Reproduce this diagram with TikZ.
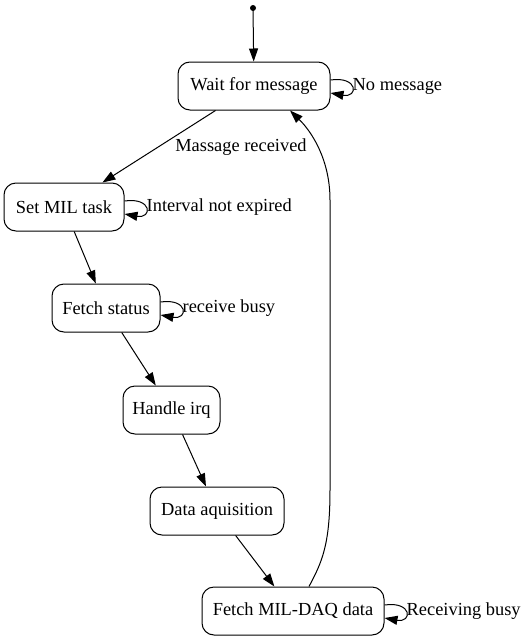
\documentclass[tikz,border=0pt]{standalone}
\usepackage{fontspec}
\setmainfont{Liberation Serif}
\usetikzlibrary{arrows.meta}
\begin{document}
\begin{tikzpicture}[x=1pt,y=-1pt,
  state/.style={draw,rounded corners=12pt,minimum height=48pt,inner sep=0pt,line width=1pt,font=\fontsize{18.4}{22}\selectfont},
  lbl/.style={font=\fontsize{18.4}{22}\selectfont,inner sep=0pt},
  edge/.style={-{Triangle[length=13pt,width=9pt]},line width=1pt}]
\useasboundingbox (0,0) rectangle (527,643);
\fill (253,8) circle (3pt) coordinate (init);
\node[state,minimum width=152pt] (w) at (254,86) {Wait for message};
\node[state,minimum width=120pt] (s) at (64,207) {Set MIL task};
\node[state,minimum width=108pt] (f) at (106,308) {Fetch status};
\node[state,minimum width=97pt] (h) at (171.5,410) {Handle irq};
\node[state,minimum width=134pt] (d) at (217,511) {Data aquisition};
\node[state,minimum width=182pt] (m) at (293,611) {Fetch MIL-DAQ data};
% edges
\draw[edge] (init) -- (w);
\draw[edge] (w) -- (s);
\node[lbl] (lmr) at (241,147) {Massage received};
\draw[edge] (s) -- (f);
\draw[edge] (f) -- (h);
\draw[edge] (h) -- (d);
\draw[edge] (d) -- (m);
\draw[edge] ([xshift=16pt]m.north) .. controls (322,562) and (330,545) .. (330,490) -- (330,200)
  .. controls (330,160) and (312,132) .. ([xshift=36pt]w.south);
% self loops
\foreach \n/\t in {w/No message,s/Interval not expired,f/receive busy,m/Receiving busy}{
  \draw[edge] ([yshift=6pt]\n.east) .. controls +(28,-4) and +(28,5) .. ([yshift=-7pt]\n.east);
  \node[lbl,anchor=west] (l\n) at ([xshift=22pt]\n.east) {\t};
}
\end{tikzpicture}
\end{document}
